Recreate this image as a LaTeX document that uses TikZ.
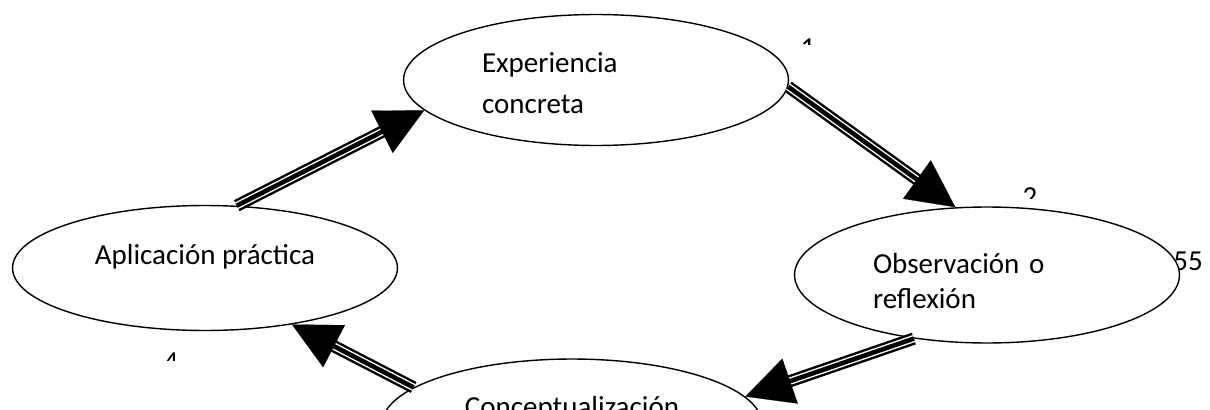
\documentclass[tikz,border=0pt]{standalone}
\usepackage{fontspec}
\setmainfont{Carlito}
\usetikzlibrary{shapes.geometric,arrows.meta,positioning}

\begin{document}
\begin{tikzpicture}[x=0.02cm, y=-0.02cm, font=\fontsize{16.5}{23}\selectfont,
    tripleline/.style={draw=none,
      preaction={draw, line width=7pt, shorten >=25pt},
      preaction={draw=white, line width=4.2pt, shorten >=25pt},
      preaction={draw, line width=2.6pt, shorten >=25pt},
      postaction={draw, line width=0.1pt, -{Triangle[length=27pt,width=27pt]}}}]
   \useasboundingbox (0,0) rectangle (1210,409);
   \clip (0,0) rectangle (1210,409);
   \begin{scope}[every node/.style={anchor=north, inner sep=0pt}]
    \node (n55) at (1188,252) {55};
    \begin{scope}
     \clip (790,30) rectangle (830,44);
     \node (n1) at (808,38) {1};
    \end{scope}
    \begin{scope}
     \clip (1010,180) rectangle (1050,198);
     \node (n2) at (1030,187) {2};
    \end{scope}
    \begin{scope}
     \clip (150,345) rectangle (190,360);
     \node (n4) at (171,353) {4};
    \end{scope}
   \end{scope}
   \begin{scope}[every node/.style={ellipse, draw, fill=white, line width=0.8pt, minimum width=7.7cm, inner sep=0pt}]
    \node (exp) [minimum height=2.62cm, text width=4.56cm, align=left, font=\fontsize{16.5}{23.2}\selectfont] at (596,80) {\rule{0pt}{15pt}Experiencia\\concreta};
    \node (obs) [minimum height=2.72cm, text width=4.56cm, align=left, font=\fontsize{16.5}{19.8}\selectfont] at (987,275) {\rule{0pt}{18.6pt}Observación o\\reflexión};
    \node (apl) [minimum height=2.5cm, text depth=15.6pt] at (205,268) {Aplicación práctica};
    \node (con) [minimum width=7.6cm, minimum height=2.6cm, text depth=20pt] at (572,424) {Conceptualización};
   \end{scope}
   \path[tripleline] (apl.63) -- (exp.190);
   \path[tripleline] (exp.-2) -- (obs.115);
   \path[tripleline] (obs.221) -- (con.9);
   \path[tripleline] (con.167) -- (apl.-33);
\end{tikzpicture}
\end{document}
